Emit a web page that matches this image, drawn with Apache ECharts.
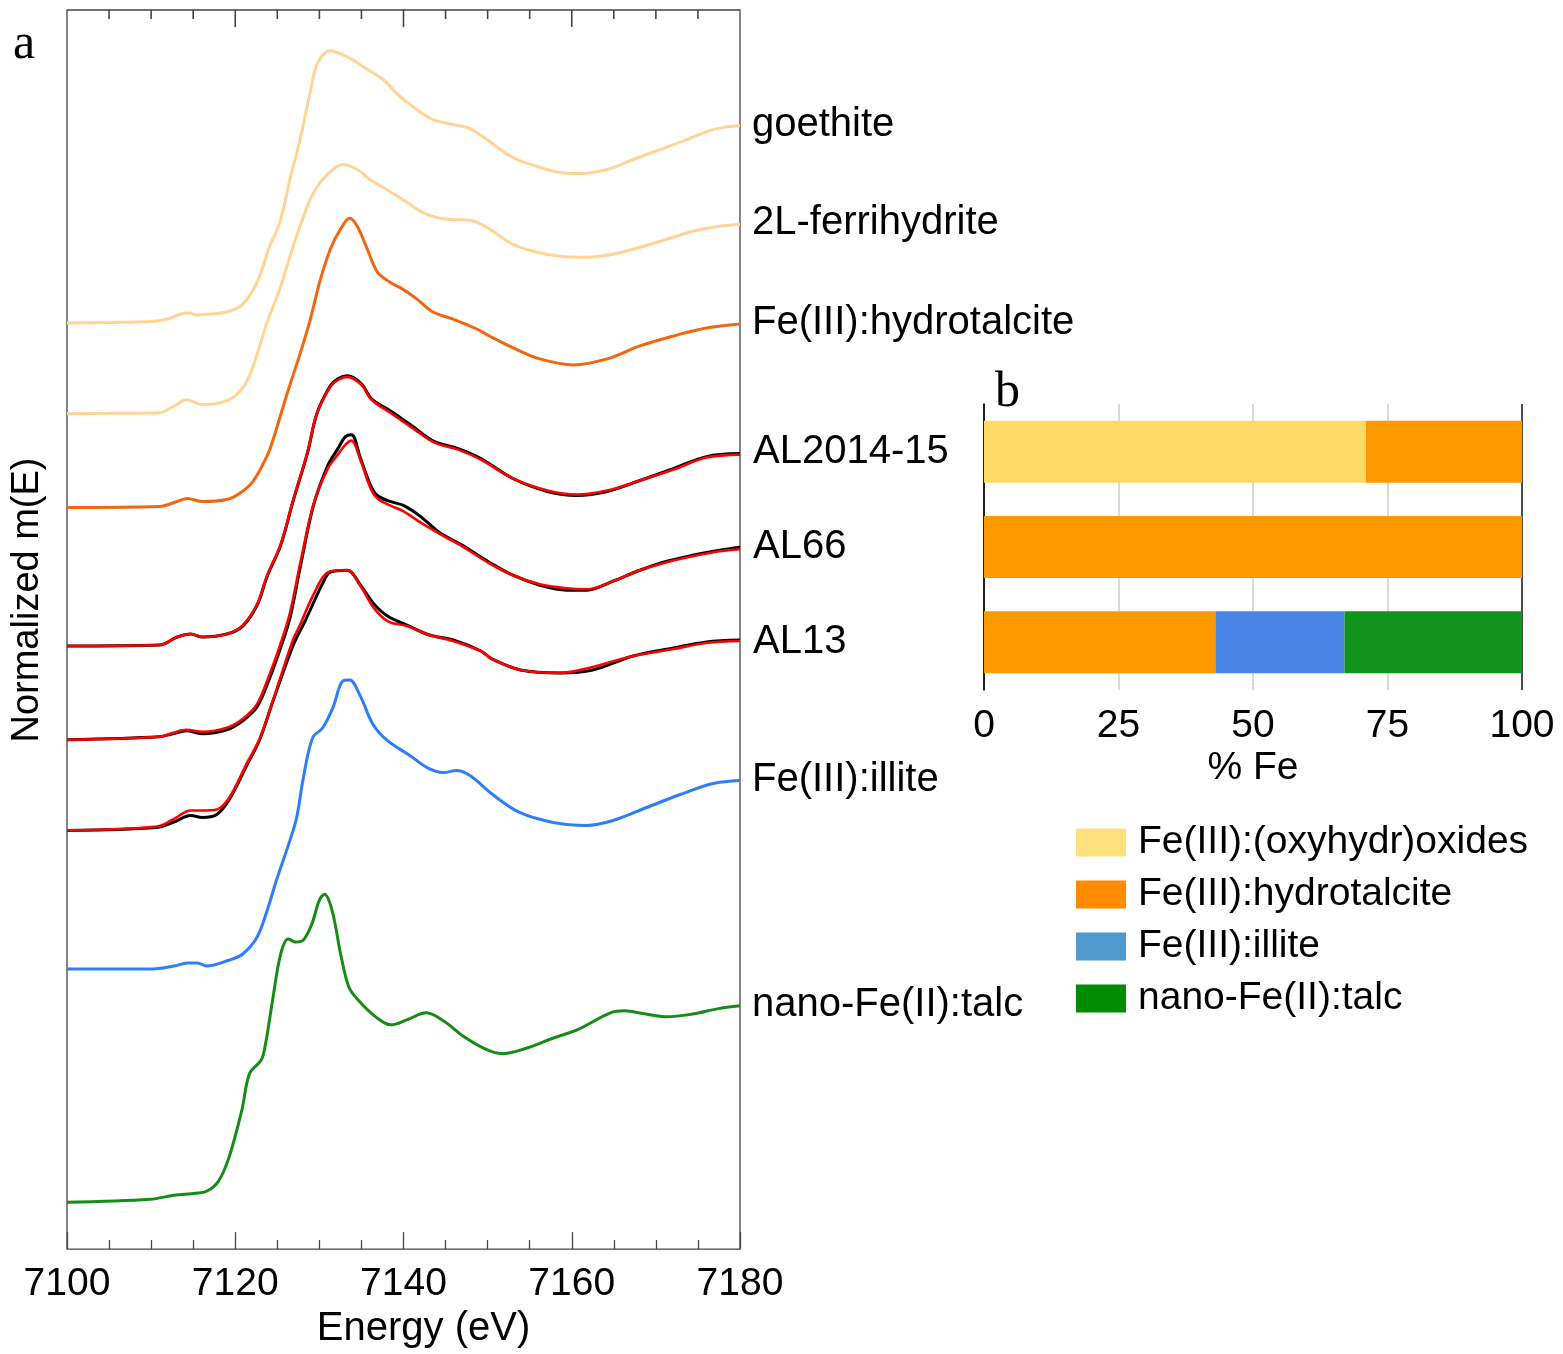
<!DOCTYPE html>
<html><head><meta charset="utf-8">
<script src="https://cdn.jsdelivr.net/npm/echarts@6/dist/echarts.min.js"></script>
<style>html,body{margin:0;padding:0;background:#fff}#c{width:1563px;height:1354px}</style>
</head><body><div id="c"></div>
<script>
// ---------- panel a : Fe K-edge XANES (normalized, before vertical offset) ----------
const goethite = [[7100,0],[7105,0.003],[7110,0.008],[7112,0.02],[7113.5,0.045],[7114.5,0.05],[7115.5,0.04],[7117,0.045],[7119,0.055],[7120.9,0.095],[7122.6,0.205],[7124.1,0.385],[7125.3,0.505],[7126.5,0.72],[7127.7,0.92],[7128.9,1.155],[7129.8,1.305],[7131.3,1.365],[7132.5,1.35],[7134,1.32],[7135.2,1.285],[7137.6,1.22],[7139.6,1.135],[7141.6,1.07],[7143.5,1.02],[7145.9,0.995],[7147.9,0.975],[7149.9,0.92],[7153,0.83],[7155.9,0.785],[7158.6,0.755],[7161,0.75],[7164.2,0.77],[7167.3,0.82],[7170.5,0.87],[7173.7,0.92],[7176.4,0.965],[7178.5,0.985],[7180,0.99]];
const ferrihydrite = [[7100,0],[7105,0.002],[7111,0.005],[7112.6,0.035],[7114.2,0.07],[7116.1,0.045],[7119,0.065],[7120.5,0.11],[7121.7,0.19],[7122.9,0.34],[7123.8,0.46],[7125.3,0.625],[7126.5,0.79],[7127.7,0.94],[7128.9,1.075],[7130.1,1.16],[7131.6,1.225],[7132.8,1.25],[7134.5,1.225],[7136,1.175],[7138,1.125],[7140.4,1.06],[7142.8,1.0],[7145.2,0.975],[7147.9,0.97],[7149.9,0.935],[7153,0.85],[7155.9,0.81],[7158.6,0.79],[7161.8,0.785],[7164.9,0.8],[7168.1,0.835],[7171.3,0.875],[7174.4,0.915],[7177.6,0.94],[7180,0.95]];
const hydrotalcite = [[7100,0],[7111,0.005],[7113.1,0.03],[7114.3,0.045],[7116.1,0.03],[7119,0.04],[7120.5,0.07],[7122.1,0.13],[7123.8,0.26],[7124.5,0.34],[7126.2,0.575],[7127.7,0.77],[7128.9,0.94],[7130.1,1.14],[7131.3,1.295],[7132.5,1.395],[7133.6,1.45],[7134.5,1.41],[7135.7,1.295],[7136.9,1.18],[7138.4,1.13],[7139.9,1.095],[7141.6,1.045],[7143.5,0.98],[7145.9,0.945],[7148.7,0.895],[7150.2,0.86],[7153.3,0.795],[7156.2,0.745],[7160.2,0.715],[7164.2,0.745],[7168.1,0.81],[7172.1,0.86],[7176,0.9],[7180,0.92]];
const al2014 = [[7100,0],[7111,0.005],[7113.1,0.045],[7114.7,0.06],[7116.1,0.045],[7119,0.06],[7120.9,0.1],[7122.6,0.205],[7123.8,0.35],[7125.4,0.505],[7126.9,0.73],[7128.6,0.97],[7129.7,1.165],[7131.3,1.305],[7132.2,1.34],[7133.3,1.355],[7135,1.315],[7136.2,1.24],[7138.6,1.175],[7141,1.105],[7143.7,1.025],[7146.5,0.99],[7149.2,0.94],[7153,0.84],[7157.1,0.775],[7160.6,0.755],[7164.2,0.775],[7168.1,0.83],[7172.1,0.89],[7176,0.95],[7180,0.965]];
const al2014Fit = [[7100,0],[7111,0.005],[7113.1,0.045],[7114.7,0.06],[7116.1,0.045],[7119,0.06],[7120.9,0.105],[7122.6,0.21],[7123.8,0.355],[7125.4,0.51],[7126.9,0.735],[7128.6,0.975],[7129.7,1.165],[7131.3,1.3],[7132.2,1.335],[7133.3,1.35],[7135,1.31],[7136.2,1.235],[7138.6,1.165],[7141,1.095],[7143.7,1.02],[7146.5,0.985],[7149.2,0.935],[7153,0.84],[7157.1,0.78],[7160.6,0.76],[7164.2,0.78],[7168.1,0.83],[7172.1,0.885],[7176,0.945],[7180,0.96]];
const al66 = [[7100,0],[7111,0.015],[7112.6,0.03],[7114.2,0.045],[7116.1,0.03],[7119,0.05],[7120.9,0.095],[7122.6,0.165],[7124.1,0.31],[7125.3,0.45],[7126.5,0.61],[7127.7,0.86],[7129.3,1.175],[7131,1.375],[7132.2,1.46],[7133.1,1.52],[7133.8,1.53],[7134.9,1.41],[7136.1,1.275],[7136.9,1.225],[7138.4,1.195],[7140,1.175],[7142,1.12],[7144.4,1.035],[7146.8,0.98],[7150,0.895],[7153,0.825],[7156.2,0.775],[7159.4,0.75],[7161.8,0.75],[7164.9,0.795],[7168.1,0.85],[7171.3,0.895],[7174.4,0.925],[7177.6,0.95],[7180,0.965]];
const al66Fit = [[7100,0],[7111,0.015],[7112.6,0.035],[7114.2,0.05],[7116.1,0.04],[7119,0.06],[7120.9,0.105],[7122.6,0.18],[7124.1,0.33],[7125.3,0.47],[7126.5,0.635],[7127.7,0.88],[7129.3,1.18],[7131,1.36],[7132.2,1.43],[7133.1,1.48],[7133.8,1.5],[7134.9,1.4],[7136.1,1.26],[7136.9,1.21],[7138.4,1.175],[7140,1.145],[7142,1.09],[7144.4,1.03],[7146.8,0.975],[7150,0.89],[7153,0.825],[7156.2,0.78],[7159.4,0.76],[7161.8,0.755],[7164.9,0.795],[7168.1,0.85],[7171.3,0.89],[7174.4,0.92],[7177.6,0.945],[7180,0.955]];
const al13 = [[7100,0],[7110.7,0.015],[7112.6,0.04],[7114.7,0.075],[7116.1,0.065],[7117.8,0.08],[7119.3,0.155],[7121.3,0.32],[7122.9,0.455],[7124.5,0.65],[7126.9,0.93],[7128.3,1.05],[7129.5,1.16],[7130.4,1.24],[7131.3,1.295],[7133.3,1.305],[7134.9,1.23],[7136.4,1.14],[7138.1,1.075],[7140.4,1.03],[7143.1,0.98],[7145.9,0.955],[7149.2,0.9],[7150.5,0.86],[7153.9,0.805],[7158.6,0.79],[7162.5,0.805],[7167.3,0.875],[7172.1,0.915],[7176,0.945],[7180,0.955]];
const al13Fit = [[7100,0],[7110.7,0.02],[7112.6,0.055],[7114.7,0.1],[7116.1,0.1],[7117.8,0.105],[7119.3,0.165],[7121.3,0.33],[7122.9,0.46],[7124.5,0.655],[7126.9,0.96],[7127.7,1.03],[7128.6,1.12],[7129.5,1.2],[7130.4,1.27],[7131.3,1.3],[7133.3,1.305],[7134.9,1.225],[7136.4,1.12],[7138.1,1.05],[7140.4,1.025],[7143.1,0.98],[7145.9,0.95],[7149.2,0.9],[7150.5,0.86],[7153.9,0.805],[7158.6,0.79],[7162.5,0.82],[7167.3,0.875],[7172.1,0.91],[7176,0.94],[7180,0.95]];
const illite = [[7100,0],[7109.9,0],[7112.7,0.015],[7114.3,0.03],[7115.5,0.03],[7116.6,0.015],[7119.3,0.045],[7120.9,0.075],[7122.6,0.16],[7123.8,0.295],[7124.9,0.445],[7126.5,0.645],[7127.3,0.76],[7128.1,0.96],[7129.2,1.16],[7130.4,1.21],[7131.6,1.31],[7132.8,1.445],[7133.6,1.45],[7134.8,1.375],[7136.4,1.225],[7138.1,1.145],[7140.8,1.07],[7142.8,1.01],[7144.7,0.985],[7146.3,0.995],[7147.9,0.97],[7150.6,0.875],[7153.8,0.785],[7157.8,0.735],[7161.8,0.72],[7164.9,0.745],[7168.9,0.81],[7172.9,0.875],[7176.8,0.93],[7180,0.945]];
const talc = [[7100,0],[7109.9,0.015],[7112.7,0.035],[7115.3,0.045],[7116.6,0.055],[7118,0.105],[7119.3,0.23],[7120.8,0.465],[7121.7,0.645],[7123.1,0.715],[7123.6,0.795],[7124.5,1.03],[7125.4,1.245],[7126.3,1.32],[7127.2,1.305],[7128.1,1.315],[7129.1,1.395],[7130,1.515],[7130.6,1.545],[7131.5,1.465],[7132.6,1.23],[7133.5,1.08],[7134.5,1.02],[7136.7,0.93],[7138.5,0.89],[7140.4,0.915],[7142.7,0.95],[7144.9,0.905],[7147.2,0.83],[7149.9,0.765],[7151.7,0.745],[7154.4,0.77],[7157.6,0.82],[7160.9,0.87],[7164.6,0.95],[7166.3,0.96],[7168.6,0.945],[7171.3,0.93],[7174.5,0.945],[7177.3,0.97],[7180,0.985]];

// vertical offsets used to stack the spectra
const offsets = {goethite:4.645, ferrihydrite:4.19, hydrotalcite:3.72, al2014:3.025, al66:2.555, al13:2.10, illite:1.405, talc:0.235};
const refLabels = ['goethite','2L-ferrihydrite','Fe(III):hydrotalcite','Fe(III):illite','nano-Fe(II):talc'];
const energyRange = [7100, 7180];
const muRange = [0, 6.215];

// ---------- panel b : linear combination fit results ----------
const samples = ['AL2014-15','AL66','AL13'];
const components = ['Fe(III):(oxyhydr)oxides','Fe(III):hydrotalcite','Fe(III):illite','nano-Fe(II):talc'];
const oxyhydroxides = [71, 0, 0];
const hydrotalciteFrac = [29, 100, 43];
const illiteFrac = [0, 0, 24];
const talcFrac = [0, 0, 33];
const fracXTicks = [0, 25, 50, 75, 100];

const FONT = 'Liberation Sans, Arial, sans-serif';
const SERIF = 'Liberation Serif, Times New Roman, serif';

function shift(curve, off){ return curve.map(p => [p[0], p[1] + off]); }

function lineSeries(name, curve, off, color, width, label){
  const s = {
    name, type:'line', xAxisIndex:0, yAxisIndex:0, data: shift(curve, off),
    showSymbol:false, symbol:'none', smooth:0.35,
    lineStyle:{color, width}, itemStyle:{color}, silent:true
  };
  if (label) {
    s.endLabel = {show:true, formatter:()=>label, distance:12, offset:[0,-1], color:'#000', fontSize:40, fontFamily:FONT};
  }
  return s;
}

const PEACH = '#FFD495', HYD = '#F0670F', BLUE = '#2F7DFB', GREEN = '#178A17';
const barColors = ['#FFD966','#FF9900','#4A86E8','#11941B'];
const legendColors = ['#FFE07D','#FF8C00','#4F9BD0','#008C00'];
const TICK = '#444';

// tick marks for the top frame of panel a (energies, every 5 eV; majors every 20 eV)
const topTickEnergies = [];
for (let e = energyRange[0] + 5; e < energyRange[1]; e += 5) topTickEnergies.push(e);

const chart = echarts.init(document.getElementById('c'), null, {renderer:'canvas'});

chart.setOption({
  animation:false,
  backgroundColor:'#fff',
  textStyle:{fontFamily:FONT},
  grid:[
    {left:67, top:10, width:673, height:1243, show:true, borderColor:TICK, borderWidth:1.3, backgroundColor:'rgba(0,0,0,0)'},
    {left:984, top:404, width:538, height:286}
  ],
  xAxis:[
    {gridIndex:0, type:'value', min:energyRange[0], max:energyRange[1], interval:20, position:'bottom',
     axisLine:{show:false}, axisTick:{show:true, inside:true, length:17, lineStyle:{color:TICK, width:1.3}},
     minorTick:{show:true, splitNumber:4, length:9, lineStyle:{color:TICK, width:1.3}}, splitLine:{show:false},
     axisLabel:{fontSize:39, color:'#000', margin:16, fontFamily:FONT, formatter:v=>String(v)},
     name:'Energy (eV)', nameLocation:'middle', nameGap:50,
     nameTextStyle:{fontSize:40, color:'#000', fontFamily:FONT, padding:[0,0,0,40]}},
    {gridIndex:1, type:'value', min:fracXTicks[0], max:fracXTicks[fracXTicks.length-1], interval:25,
     axisLine:{show:false}, axisTick:{show:false},
     splitLine:{show:true, lineStyle:{color:['#111','#cccccc','#cccccc','#cccccc','#111'], width:1.5}},
     axisLabel:{fontSize:39, color:'#000', margin:17, fontFamily:FONT},
     name:'% Fe', nameLocation:'middle', nameGap:59,
     nameTextStyle:{fontSize:39, color:'#000', fontFamily:FONT}}
  ],
  yAxis:[
    {gridIndex:0, type:'value', min:muRange[0], max:muRange[1], show:false},
    {gridIndex:1, type:'category', data:samples, inverse:true,
     axisLine:{show:true, lineStyle:{color:'#111', width:1.5}}, axisTick:{show:false},
     axisLabel:{fontSize:40, color:'#000', align:'left', margin:231, fontFamily:FONT, padding:[7,0,0,0]}}
  ],
  legend:{
    orient:'vertical', left:1076, top:823, padding:0, itemWidth:50, itemHeight:28, itemGap:13, icon:'rect',
    selectedMode:false,
    textStyle:{fontSize:39, color:'#000', fontFamily:FONT, padding:[0,0,0,7]},
    data: components.map((n,i)=>({name:n, itemStyle:{color:legendColors[i]}}))
  },
  graphic:[
    {id:'lblA', type:'text', x:13, y:45, style:{text:'a', font:'50px ' + SERIF, fill:'#000', align:'left', verticalAlign:'middle'}},
    {id:'lblB', type:'text', x:995, y:393, style:{text:'b', font:'50px ' + SERIF, fill:'#000', align:'left', verticalAlign:'middle'}},
    {id:'lblY', type:'text', x:28, y:600, rotation:Math.PI/2, style:{text:'Normalized m(E)', font:'38px ' + FONT, fill:'#000', align:'center', verticalAlign:'middle'}}
  ],
  series:[
    lineSeries('ref goethite', goethite, offsets.goethite, PEACH, 3, refLabels[0]),
    lineSeries('ref ferrihydrite', ferrihydrite, offsets.ferrihydrite, PEACH, 3, refLabels[1]),
    lineSeries('ref hydrotalcite', hydrotalcite, offsets.hydrotalcite, HYD, 3, refLabels[2]),
    lineSeries('AL2014-15 data', al2014, offsets.al2014, '#000', 3),
    lineSeries('AL2014-15 fit', al2014Fit, offsets.al2014, '#FF0000', 2.6),
    lineSeries('AL66 data', al66, offsets.al66, '#000', 3),
    lineSeries('AL66 fit', al66Fit, offsets.al66, '#FF0000', 2.6),
    lineSeries('AL13 data', al13, offsets.al13, '#000', 3),
    lineSeries('AL13 fit', al13Fit, offsets.al13, '#FF0000', 2.6),
    lineSeries('ref illite', illite, offsets.illite, BLUE, 3, refLabels[3]),
    lineSeries('ref talc', talc, offsets.talc, GREEN, 3, refLabels[4]),
    // top-frame tick marks drawn as a custom series through the energy axis scale
    {name:'top ticks', type:'custom', xAxisIndex:0, yAxisIndex:0, silent:true, clip:false, z:10,
     data: topTickEnergies.map(e => [e, muRange[1]]),
     renderItem: function(params, api){
       const p = api.coord([api.value(0), api.value(1)]);
       const len = (api.value(0) % 20 === 0) ? 17 : 9;
       return {type:'line', shape:{x1:p[0], y1:p[1], x2:p[0], y2:p[1] + len},
               style:{stroke:TICK, lineWidth:1.6}};
     }},
    {name:components[0], type:'bar', stack:'fe', xAxisIndex:1, yAxisIndex:1, data:oxyhydroxides, barCategoryGap:'35%', itemStyle:{color:barColors[0]}},
    {name:components[1], type:'bar', stack:'fe', xAxisIndex:1, yAxisIndex:1, data:hydrotalciteFrac, itemStyle:{color:barColors[1]}},
    {name:components[2], type:'bar', stack:'fe', xAxisIndex:1, yAxisIndex:1, data:illiteFrac, itemStyle:{color:barColors[2]}},
    {name:components[3], type:'bar', stack:'fe', xAxisIndex:1, yAxisIndex:1, data:talcFrac, itemStyle:{color:barColors[3]}}
  ]
});
</script>
</body></html>
